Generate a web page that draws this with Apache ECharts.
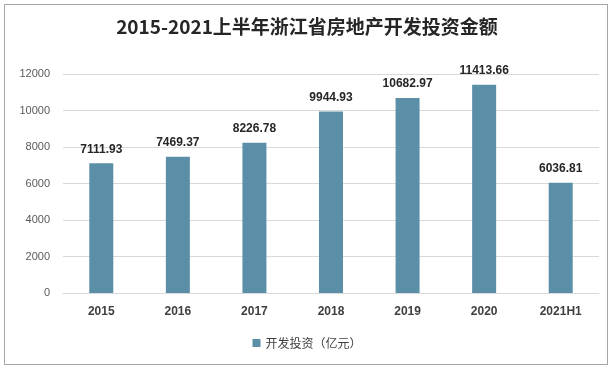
<!DOCTYPE html>
<html><head><meta charset="utf-8">
<script src="https://cdn.jsdelivr.net/npm/echarts@6/dist/echarts.min.js"></script>
<style>html,body{margin:0;padding:0;background:#fff}#c{width:614px;height:370px}
#b{position:absolute;left:4px;top:4px;width:604px;height:361px;border:1px solid #a6a6a6;box-sizing:border-box;pointer-events:none}</style>
</head><body><div id="c"></div><div id="b"></div>
<script>
const categories = ['2015','2016','2017','2018','2019','2020','2021H1'];
const values = [7111.93, 7469.37, 8226.78, 9944.93, 10682.97, 11413.66, 6036.81];
const seriesName = '开发投资（亿元）';
const titleText = '2015-2021上半年浙江省房地产开发投资金额';
const chart = echarts.init(document.getElementById('c'));
chart.setOption({
  animation:false,
  title:{text:titleText,left:'center',top:12,textStyle:{fontSize:19,fontWeight:'bold',color:'#262626',fontFamily:'"Noto Sans CJK SC", sans-serif'}},
  grid:{left:63,right:15,top:74,bottom:77},
  legend:{bottom:16,left:'center',itemWidth:8,itemHeight:8,itemGap:6,icon:'rect',textStyle:{fontSize:12,color:'#404040',fontFamily:'"Noto Sans CJK SC", sans-serif'},data:[seriesName]},
  xAxis:{type:'category',data:categories,axisTick:{show:false},axisLine:{lineStyle:{color:'#d9d9d9'}},
    axisLabel:{fontSize:12,fontWeight:'bold',color:'#404040',margin:13,fontFamily:'"Liberation Sans", sans-serif'}},
  yAxis:{type:'value',min:0,max:12000,interval:2000,axisLine:{show:false},axisTick:{show:false},
    splitLine:{lineStyle:{color:'#d9d9d9'}},axisLabel:{fontSize:11,color:'#595959',margin:13,formatter:v=>String(v),fontFamily:'"Liberation Sans", sans-serif'}},
  series:[{name:seriesName,type:'bar',data:values,barWidth:24,itemStyle:{color:'#5b8fa7'},
    label:{show:true,position:'top',distance:8,fontSize:12,fontWeight:'bold',color:'#262626',fontFamily:'"Liberation Sans", sans-serif'}}]
});
</script></body></html>
